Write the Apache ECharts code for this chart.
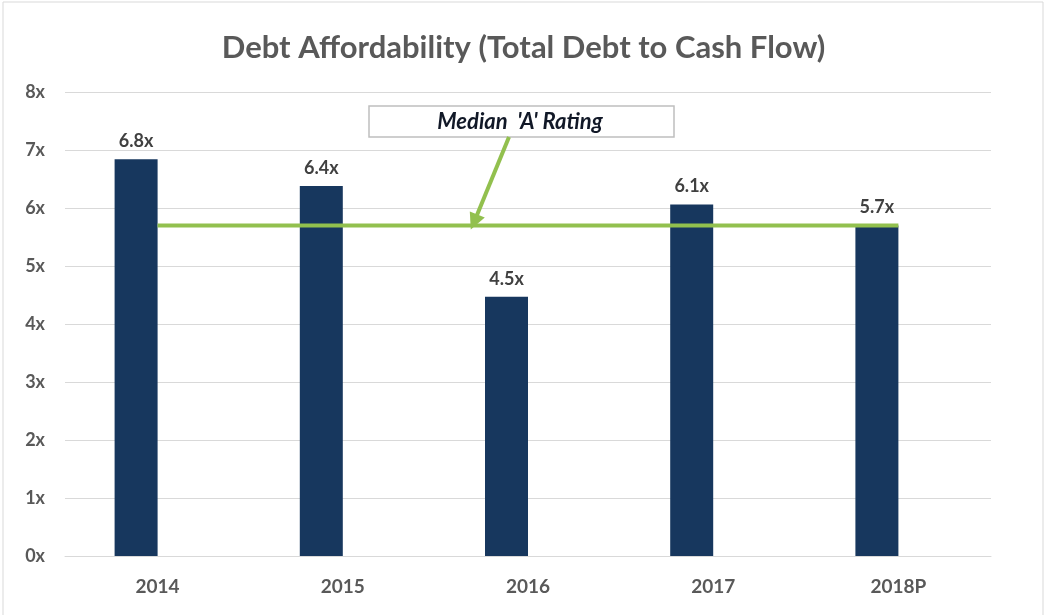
<!DOCTYPE html>
<html>
<head>
<meta charset="utf-8">
<script src="https://cdn.jsdelivr.net/npm/echarts@6/dist/echarts.min.js"></script>
<style>
  html, body { margin: 0; padding: 0; background: #fff; }
  #main { width: 1047px; height: 615px; }
</style>
</head>
<body>
<div id="main"></div>
<script>
var years = ['2014', '2015', '2016', '2017', '2018P'];
var ratio = [6.84, 6.38, 4.47, 6.06, 5.7];
var median = 5.7;
var yTicks = [0, 1, 2, 3, 4, 5, 6, 7, 8];

var font = 'Lato, "Open Sans", sans-serif';
var green = '#92c04e';
var chart = echarts.init(document.getElementById('main'));

var option = {
  backgroundColor: '#fff',
  animation: false,
  title: {
    text: 'Debt Affordability (Total Debt to Cash Flow)',
    left: 'center',
    top: 27,
    textStyle: { fontFamily: font, fontSize: 31, fontWeight: 'bold', color: '#595959' }
  },
  grid: { left: 65, right: 56, top: 92, bottom: 59 },
  xAxis: {
    type: 'category',
    data: years,
    axisLine: { show: true, lineStyle: { color: '#d9d9d9', width: 1 } },
    axisTick: { show: false },
    axisLabel: { margin: 21, fontFamily: font, fontSize: 19, fontWeight: 'bold', color: '#595959' }
  },
  yAxis: {
    type: 'value',
    min: yTicks[0],
    max: yTicks[yTicks.length - 1],
    interval: 1,
    axisLine: { show: false },
    axisTick: { show: false },
    splitLine: { lineStyle: { color: '#d9d9d9', width: 1 } },
    axisLabel: {
      margin: 20, fontFamily: font, fontSize: 18, fontWeight: 'bold', color: '#595959',
      formatter: function (v) { return v + 'x'; }
    }
  },
  series: [{
    name: 'Total Debt / Cash Flow',
    type: 'bar',
    data: ratio,
    barWidth: 43,
    barGap: '0%',
    z: 2,
    itemStyle: { color: '#17375e' },
    label: {
      show: true,
      position: 'top',
      distance: 9,
      fontFamily: font, fontSize: 18, fontWeight: 'bold', color: '#404040',
      formatter: function (p) { return p.value.toFixed(1) + 'x'; }
    }
  }, {
    // empty second series keeps bars offset left of the category centre
    name: 'spacer',
    type: 'bar',
    barWidth: 43,
    data: years.map(function () { return '-'; })
  }, {
    name: "Median 'A' Rating",
    type: 'line',
    data: years.map(function () { return median; }),
    symbol: 'none',
    z: 5,
    lineStyle: { color: green, width: 4 }
  }]
};
chart.setOption(option);

// annotation box + arrow pointing at the median line
var mid = chart.convertToPixel({ seriesIndex: 2 }, [years[1], median]);
var tipX = mid[0] + 128, tipY = mid[1] + 4;
chart.setOption({
  graphic: [{
    type: 'rect',
    shape: { x: 3, y: 2, width: 1040, height: 620 },
    style: { fill: 'none', stroke: '#d9d9d9', lineWidth: 1 },
    silent: true
  }, {
    type: 'rect',
    shape: { x: 369, y: 106, width: 305, height: 31 },
    style: { fill: '#fff', stroke: '#bfbfbf', lineWidth: 1.5 },
    z: 10
  }, {
    type: 'text',
    x: 520, y: 122,
    style: {
      text: "Median  'A' Rating",
      align: 'center', verticalAlign: 'middle',
      font: 'italic bold 22px ' + font,
      fill: '#111827'
    },
    z: 11
  }, {
    type: 'line',
    shape: { x1: 509, y1: 137, x2: tipX + 6, y2: tipY - 14 },
    style: { stroke: green, lineWidth: 4 },
    z: 10
  }, {
    type: 'polygon',
    shape: { points: [[tipX, tipY], [tipX - 1, tipY - 18], [tipX + 14, tipY - 12]] },
    style: { fill: green },
    z: 10
  }]
});
</script>
</body>
</html>
